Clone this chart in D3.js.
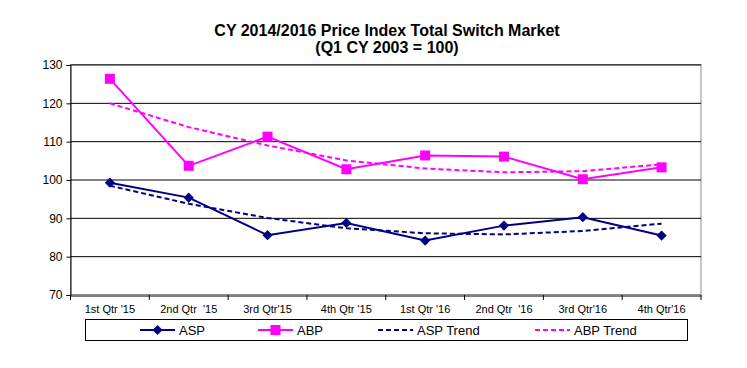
<!DOCTYPE html>
<html>
<head>
<meta charset="utf-8">
<script src="https://cdnjs.cloudflare.com/ajax/libs/d3/7.8.5/d3.min.js"></script>
<style>
body { margin: 0; background: #fff; }
svg { display: block; font-family: Arial, "Liberation Sans", sans-serif; }
</style>
</head>
<body>
<svg id="chart" width="747" height="368" viewBox="0 0 747 368"></svg>
<script>
const quarters = ["1st Qtr '15", "2nd Qtr  '15", "3rd Qtr'15", "4th Qtr '15", "1st Qtr '16", "2nd Qtr  '16", "3rd Qtr'16", "4th Qtr'16"];
const asp = [99.3, 95.4, 85.6, 88.8, 84.2, 88.1, 90.3, 85.5];
const abp = [126.4, 103.7, 111.3, 102.8, 106.4, 106.1, 100.2, 103.3];
const aspTrend = [98.5, 93.8, 90.1, 87.4, 86.1, 85.8, 86.7, 88.6];
const abpTrend = [120.0, 113.8, 109.0, 105.1, 103.0, 102.0, 102.3, 104.1];
const yTicks = [70, 80, 90, 100, 110, 120, 130];

const svg = d3.select("#chart");
const plotLeft = 70.5, plotRight = 701, plotTop = 65, plotBottom = 295;

let x = d3.scaleBand().domain(quarters).range([plotLeft, plotRight]);
let y = d3.scaleLinear().domain([70, 130]).range([plotBottom, plotTop]);

// title
let title = svg.append("text")
    .attr("x", 387).attr("text-anchor", "middle")
    .style("font-weight", "bold").style("font-size", "16px");
title.append("tspan").attr("x", 387).attr("y", 36).text("CY 2014/2016 Price Index Total Switch Market");
title.append("tspan").attr("x", 387).attr("y", 53).text("(Q1 CY 2003 = 100)");

// plot border
svg.append("rect")
    .attr("x", plotLeft).attr("y", plotTop - 0.5)
    .attr("width", plotRight - plotLeft).attr("height", plotBottom - plotTop)
    .attr("fill", "none").attr("stroke", "#8c8c8c");

// gridlines
svg.append("g").selectAll("line")
    .data(yTicks.filter(d => d > 70))
    .enter().append("line")
    .attr("x1", plotLeft).attr("x2", plotRight)
    .attr("y1", d => y(d)).attr("y2", d => y(d))
    .attr("stroke", "#000").attr("stroke-width", 1);

// y axis
let yAxis = svg.append("g")
    .attr("transform", `translate(${plotLeft},0)`)
    .call(d3.axisLeft(y).tickValues(yTicks).tickSize(4).tickPadding(4));
yAxis.select(".domain").attr("stroke", "#000");
yAxis.selectAll("text").style("font-size", "12px").style("font-family", "Arial, 'Liberation Sans', sans-serif").attr("fill", "#000");

// x axis
let xAxis = svg.append("g")
    .attr("transform", `translate(0,${plotBottom + 0.5})`)
    .call(d3.axisBottom(x).tickSize(0).tickPadding(10));
xAxis.select(".domain").attr("stroke", "#000");
xAxis.selectAll("text").style("font-size", "11px").style("font-family", "Arial, 'Liberation Sans', sans-serif").attr("fill", "#000").style("white-space", "pre");
svg.append("g").selectAll("line")
    .data(d3.range(quarters.length + 1))
    .enter().append("line")
    .attr("x1", i => plotLeft + i * x.step()).attr("x2", i => plotLeft + i * x.step())
    .attr("y1", plotBottom).attr("y2", plotBottom + 5)
    .attr("stroke", "#000");

let cx = d => x(d) + x.bandwidth() / 2;
let line = d3.line().x((d, i) => cx(quarters[i])).y(d => y(d));

// trend lines
svg.append("path").datum(aspTrend)
    .attr("d", line).attr("fill", "none")
    .attr("stroke", "#000080").attr("stroke-width", 2).attr("stroke-dasharray", "5,3");
svg.append("path").datum(abpTrend)
    .attr("d", line).attr("fill", "none")
    .attr("stroke", "#ff00ff").attr("stroke-width", 2).attr("stroke-dasharray", "5,3");

// series lines
svg.append("path").datum(asp)
    .attr("d", line).attr("fill", "none")
    .attr("stroke", "#000080").attr("stroke-width", 2);
svg.append("path").datum(abp)
    .attr("d", line).attr("fill", "none")
    .attr("stroke", "#ff00ff").attr("stroke-width", 2);

let diamond = d3.symbol().type(d3.symbolDiamond2).size(66);
svg.append("g").selectAll("path")
    .data(asp).enter().append("path")
    .attr("d", diamond)
    .attr("transform", (d, i) => `translate(${cx(quarters[i])},${y(d)})`)
    .attr("fill", "#000080");
svg.append("g").selectAll("rect")
    .data(abp).enter().append("rect")
    .attr("x", (d, i) => cx(quarters[i]) - 5).attr("y", d => y(d) - 5)
    .attr("width", 10).attr("height", 10)
    .attr("fill", "#ff00ff");

// legend
let legend = svg.append("g");
legend.append("rect")
    .attr("x", 85.5).attr("y", 319.5).attr("width", 602).attr("height", 21)
    .attr("fill", "#fff").attr("stroke", "#000");
const legendItems = [
    {name: "ASP", color: "#000080", dash: null, marker: "diamond", x0: 140},
    {name: "ABP", color: "#ff00ff", dash: null, marker: "square", x0: 258},
    {name: "ASP Trend", color: "#000080", dash: "5,3", marker: null, x0: 378},
    {name: "ABP Trend", color: "#ff00ff", dash: "5,3", marker: null, x0: 535}
];
legendItems.forEach(function(it) {
    legend.append("line")
        .attr("x1", it.x0).attr("x2", it.x0 + 35)
        .attr("y1", 330).attr("y2", 330)
        .attr("stroke", it.color).attr("stroke-width", 2)
        .attr("stroke-dasharray", it.dash);
    if (it.marker === "diamond") {
        legend.append("path").attr("d", diamond)
            .attr("transform", `translate(${it.x0 + 17.5},330)`).attr("fill", it.color);
    } else if (it.marker === "square") {
        legend.append("rect").attr("x", it.x0 + 12.5).attr("y", 325)
            .attr("width", 10).attr("height", 10).attr("fill", it.color);
    }
    legend.append("text")
        .attr("x", it.x0 + 39).attr("y", 335)
        .style("font-size", "13px")
        .text(it.name);
});
</script>
</body>
</html>
